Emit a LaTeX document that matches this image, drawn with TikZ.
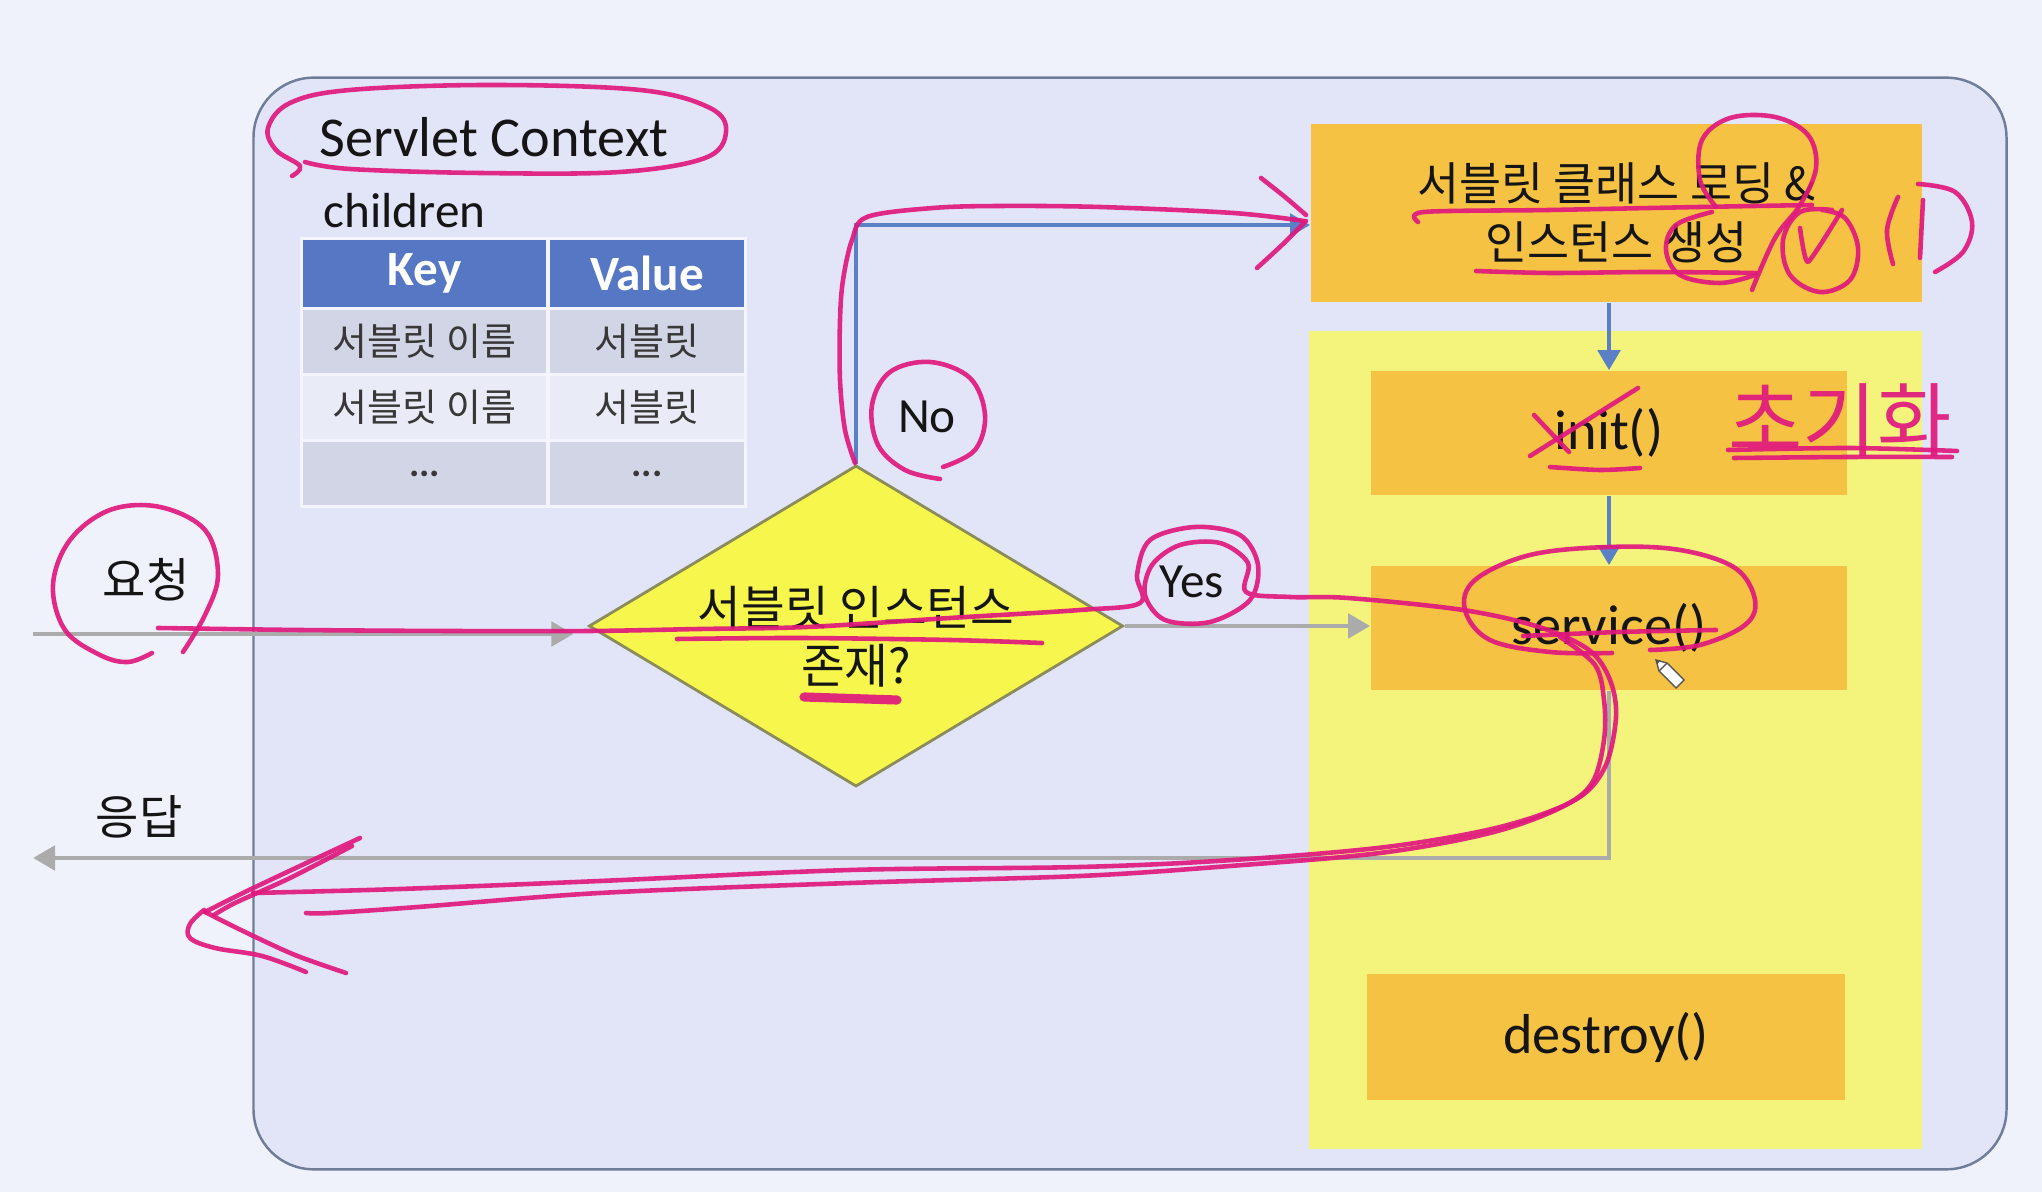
\documentclass[tikz,border=0pt]{standalone}
\usepackage{fontspec}
\setmainfont{Carlito}
\newfontfamily\kr{Noto Sans CJK KR}
\usetikzlibrary{shapes.geometric,arrows.meta}
\definecolor{bgc}{HTML}{F0F2FB}
\definecolor{ctxfill}{HTML}{E2E5F8}
\definecolor{ctxline}{HTML}{6F7D99}
\definecolor{hdr}{HTML}{5677C3}
\definecolor{rowa}{HTML}{D2D5E5}
\definecolor{rowb}{HTML}{E9EBF6}
\definecolor{diafill}{HTML}{F6F64C}
\definecolor{dialine}{HTML}{8C8C5A}
\definecolor{orangebox}{HTML}{F5C243}
\definecolor{panelc}{HTML}{F4F47D}
\definecolor{grayarrow}{HTML}{ABABAB}
\definecolor{bluearrow}{HTML}{5A80C6}
\definecolor{pen}{HTML}{E0187E}
\definecolor{txt}{HTML}{151515}
\definecolor{celltxt}{HTML}{383838}
\begin{document}
\begin{tikzpicture}[x=0.01cm,y=-0.01cm,
  hand/.style={draw=pen, line width=1.3pt, line cap=round, line join=round, opacity=0.92},
  ctxbox/.style={draw=ctxline, line width=0.7pt, fill=ctxfill, rounded corners=0.6cm, inner sep=0pt},
  hdrcell/.style={fill=hdr, inner sep=0pt, text=white, font=\bfseries\fontsize{14}{17}\selectfont},
  cellA/.style={fill=rowa, inner sep=0pt, text=celltxt, font=\kr\fontsize{10.8}{13}\selectfont},
  cellB/.style={fill=rowb, inner sep=0pt, text=celltxt, font=\kr\fontsize{10.8}{13}\selectfont},
  obox/.style={fill=orangebox, inner sep=0pt, text=txt, align=center},
  latinlbl/.style={text=txt, font=\fontsize{16}{19}\selectfont},
  krlbl/.style={text=txt, font=\kr\fontsize{13.4}{16}\selectfont},
  garrow/.style={draw=grayarrow, line width=1.4pt, -{Triangle[length=0.22cm,width=0.24cm]}},
  barrow/.style={draw=bluearrow, line width=1.4pt, -{Triangle[length=0.2cm,width=0.22cm]}}]
\fill[bgc] (0,0) rectangle (2042,1192);
\useasboundingbox (0,0) rectangle (2042,1192);

% Servlet context container
\node[ctxbox, minimum width=17.52cm, minimum height=10.91cm] (ctx) at (1130,623.5) {};
\node[latinlbl, anchor=base west] (ctxlabel) at (307,157) {Servlet Context};
\node[text=txt, anchor=base west, font=\fontsize{14}{17}\selectfont] (children) at (311,228) {children};

% table
\fill[white, opacity=0.6] (300,237) rectangle (747,508);
\node[hdrcell, minimum width=2.43cm, minimum height=0.67cm] (kh) at (424.5,273.5) {Key};
\node[hdrcell, minimum width=1.94cm, minimum height=0.67cm] (vh) at (647,273.5) {Value};
\node[cellA, minimum width=2.43cm, minimum height=0.63cm] (k1) at (424.5,341.5) {서블릿 이름};
\node[cellA, minimum width=1.94cm, minimum height=0.63cm] (v1) at (647,341.5) {서블릿};
\node[cellB, minimum width=2.43cm, minimum height=0.63cm] (k2) at (424.5,407.5) {서블릿 이름};
\node[cellB, minimum width=1.94cm, minimum height=0.63cm] (v2) at (647,407.5) {서블릿};
\node[cellA, minimum width=2.43cm, minimum height=0.63cm, font=\bfseries\fontsize{11}{13}\selectfont] (k3) at (424.5,473.5) {...};
\node[cellA, minimum width=1.94cm, minimum height=0.63cm, font=\bfseries\fontsize{11}{13}\selectfont] (v3) at (647,473.5) {...};

% decision diamond
\node[diamond, draw=dialine, fill=diafill, line width=0.8pt, minimum width=5.34cm, minimum height=3.21cm,
      inner sep=0pt, shape aspect=1.66] (dia) at (856,626) {};
\node[align=center, text=txt, inner sep=0pt, font=\kr\fontsize{13.5}{16.5}\selectfont] (diatext) at (856,637) {서블릿 인스턴스\\존재?};

% lifecycle panel
\node[fill=panelc, minimum width=6.13cm, minimum height=8.18cm, inner sep=0pt] (panel) at (1615.5,740) {};
\node[obox, minimum width=6.11cm, minimum height=1.78cm, font=\kr\fontsize{13}{16.8}\selectfont] (load) at (1616.5,213) {서블릿 클래스 로딩 \&\\인스턴스 생성};
\node[obox, minimum width=4.76cm, minimum height=1.24cm, font=\fontsize{16}{19}\selectfont] (init) at (1609,433) {init()};
\node[obox, minimum width=4.76cm, minimum height=1.24cm, font=\fontsize{16}{19}\selectfont] (svc) at (1609,628) {service()};
\node[obox, minimum width=4.78cm, minimum height=1.26cm, font=\fontsize{16}{19}\selectfont] (destroy) at (1606,1037) {destroy()};

% labels
\node[krlbl] (req) at (146,580) {요청};
\node[krlbl] (resp) at (139,817) {응답};
\node[text=txt, font=\fontsize{14}{17}\selectfont] (no) at (927,417) {No};
\node[text=txt, font=\fontsize{14}{17}\selectfont] (yes) at (1192,582) {Yes};

% connectors
\coordinate (reqstart) at (33,634);
\coordinate (respend) at (33,858);
\draw[garrow, shorten >=0.14cm] (reqstart) -- (reqstart -| dia.west);
\draw[garrow] (dia.east) -- (dia.east -| svc.west);
\draw[garrow] (svc.south) |- (respend);
\draw[barrow] (dia.north) |- ([yshift=-0.12cm]load.west);
\draw[barrow] (load.south -| init.north) -- (init.north);
\draw[barrow] (init.south) -- (svc.north);

% pencil cursor
\filldraw[fill=white, draw=gray!70!black, line width=0.4pt] (1656,660) -- (1667,663) -- (1684,680) -- (1676,688) -- (1659,671) -- cycle;
\draw[gray!70!black, line width=0.4pt] (1667,663) -- (1659,671);
\fill[gray!60!black] (1656,660) -- (1660,661) -- (1657,664) -- cycle;

% ---------- handwritten pen annotations ----------
% Servlet Context
\draw[hand] plot[smooth, tension=0.6] coordinates {(292,176) (300,166) (276,150) (268,128) (290,103) (350,90) (490,85) (640,90) (710,108) (726,132) (705,158) (620,172) (480,173) (350,169) (305,162)};
% request circle
\draw[hand] plot[smooth, tension=0.6] coordinates {(183,652) (205,615) (218,575) (205,530) (160,507) (110,510) (70,540) (53,585) (65,630) (100,655) (128,662) (152,653)};
% request line through diamond, Yes loop and back as response arrow
\draw[hand] plot[smooth, tension=0.55] coordinates {(158,628) (300,630) (450,631) (590,631) (700,629) (807,627) (950,618) (1080,610) (1140,603)
  (1137,575) (1150,540) (1195,527) (1240,535) (1258,565) (1250,600) (1210,622) (1165,620) (1145,595) (1152,565) (1180,545) (1220,543) (1248,563) (1246,592)
  (1290,597) (1348,598) (1463,610) (1539,627) (1589,650) (1610,680) (1616,717) (1605,767) (1575,800) (1500,827) (1386,847) (1233,860) (1080,867) (850,870) (600,881) (400,889) (253,893)};
\draw[hand] plot[smooth, tension=0.55] coordinates {(1560,637) (1595,665) (1604,700) (1604,740) (1592,783) (1560,808) (1490,833) (1380,853) (1230,866) (1080,876) (850,883) (600,893) (418,907) (330,913) (306,913)};
\draw[hand] plot[smooth, tension=0.5] coordinates {(360,838) (300,866) (245,892) (205,912)};
\draw[hand] plot[smooth, tension=0.5] coordinates {(352,846) (290,878) (235,903) (214,915)};
\draw[hand] plot[smooth, tension=0.5] coordinates {(205,912) (245,932) (295,955) (346,973)};
\draw[hand] plot[smooth, tension=0.6] coordinates {(204,910) (190,924) (190,938) (215,948) (262,956) (306,972)};
% diamond underlines
\draw[hand] plot[smooth] coordinates {(677,639) (800,638) (950,640) (1042,643)};
\draw[hand, line width=2.6pt] (804,697) -- (897,700);
% No circle
\draw[hand] plot[smooth, tension=0.6] coordinates {(943,467) (975,450) (985,415) (970,378) (930,362) (890,372) (872,405) (878,445) (905,470) (940,479)};
% No branch trace and arrow into loading box
\draw[hand] plot[smooth, tension=0.55] coordinates {(855,463) (845,430) (840,380) (840,320) (843,280) (852,240) (867,217) (933,208) (1000,206) (1100,207) (1233,213) (1304,221)};
\draw[hand] plot[smooth, tension=0.5] coordinates {(1261,178) (1285,197) (1306,215)};
\draw[hand] plot[smooth, tension=0.5] coordinates {(1306,221) (1282,245) (1257,268)};
% loading box marks
\draw[hand] plot[smooth, tension=0.5] coordinates {(1418,222) (1424,212) (1550,210) (1700,207) (1812,205)};
\draw[hand] plot[smooth, tension=0.6] coordinates {(1716,207) (1700,180) (1702,140) (1730,118) (1775,117) (1808,135) (1816,168) (1800,205) (1775,238) (1752,290)};
\draw[hand] plot[smooth, tension=0.6] coordinates {(1712,212) (1676,225) (1666,250) (1680,275) (1720,283) (1755,275)};
\draw[hand] plot[smooth] coordinates {(1476,271) (1550,273) (1650,272) (1756,273)};
\draw[hand] plot[smooth, tension=0.6] coordinates {(1832,210) (1800,212) (1783,240) (1790,275) (1820,292) (1850,280) (1858,248) (1845,218) (1822,210)};
\draw[hand] plot[smooth, tension=0.3] coordinates {(1800,228) (1808,262) (1842,210)};
\draw[hand] plot[smooth, tension=0.6] coordinates {(1898,197) (1887,230) (1893,264)};
\draw[hand] (1923,200) -- (1920,258);
\draw[hand] plot[smooth, tension=0.6] coordinates {(1918,184) (1955,192) (1972,222) (1963,252) (1935,272)};
% init marks
\draw[hand] (1530,456) -- (1638,388);
\draw[hand] (1534,415) -- (1569,452);
\draw[hand] plot[smooth] coordinates {(1550,467) (1600,470) (1640,468)};
\node[text=pen, opacity=0.92, font=\kr\fontsize{23}{27}\selectfont] (chogi) at (1840,420) {초기화};
\draw[hand] plot[smooth] coordinates {(1728,450) (1850,448) (1957,451)};
\draw[hand] plot[smooth] coordinates {(1734,458) (1850,457) (1952,457)};
% service marks
\draw[hand] plot[smooth, tension=0.6] coordinates {(1650,650) (1700,645) (1745,625) (1755,600) (1735,568) (1680,550) (1609,547) (1530,555) (1475,580) (1465,610) (1490,640) (1550,652) (1612,653)};
\draw[hand] plot[smooth] coordinates {(1523,636) (1620,632) (1716,630)};
\end{tikzpicture}
\end{document}
